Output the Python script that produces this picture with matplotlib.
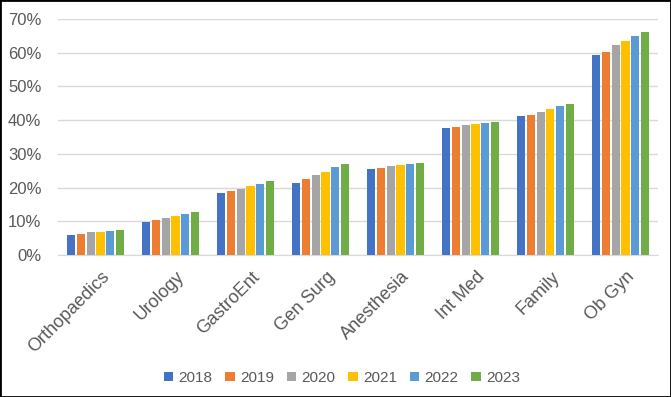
import numpy as np
import matplotlib as mpl
mpl.use('Agg')
import matplotlib.pyplot as plt
from matplotlib.transforms import ScaledTranslation
from matplotlib.ticker import PercentFormatter
from matplotlib.patches import Rectangle

plt.rcParams['font.family'] = ['Liberation Sans', 'DejaVu Sans']

categories = ['Orthopaedics', 'Urology', 'GastroEnt', 'Gen Surg',
              'Anesthesia', 'Int Med', 'Family', 'Ob Gyn']
years = ['2018', '2019', '2020', '2021', '2022', '2023']

# share per specialty, one list per year
v2018 = [0.060, 0.098, 0.184, 0.214, 0.256, 0.377, 0.413, 0.592]
v2019 = [0.063, 0.103, 0.191, 0.224, 0.259, 0.380, 0.416, 0.603]
v2020 = [0.067, 0.110, 0.197, 0.236, 0.264, 0.385, 0.425, 0.623]
v2021 = [0.068, 0.116, 0.205, 0.247, 0.267, 0.390, 0.434, 0.635]
v2022 = [0.072, 0.123, 0.212, 0.260, 0.270, 0.392, 0.441, 0.649]
v2023 = [0.075, 0.128, 0.220, 0.270, 0.273, 0.395, 0.447, 0.661]
series = [v2018, v2019, v2020, v2021, v2022, v2023]

colors = ['#4472C4', '#ED7D31', '#A5A5A5', '#FFC000', '#5B9BD5', '#70AD47']
txt = '#595959'

fig = plt.figure(figsize=(6.71, 3.97), dpi=100)
ax = fig.add_axes([58/671, 1-255/397, 600/671, 236/397])

x = np.arange(len(categories))
step = 0.133
for i, (vals, c, yr) in enumerate(zip(series, colors, years)):
    ax.bar(x + (i-2.5)*step, vals, width=0.107, color=c, label=yr, zorder=3)

ax.set_xlim(-0.5, len(categories)-0.5)
ax.set_ylim(0, 0.7)
ax.set_yticks(np.arange(0, 0.71, 0.1))
ax.yaxis.set_major_formatter(PercentFormatter(1.0, decimals=0))
ax.grid(axis='y', color='#D9D9D9', linewidth=1, zorder=0)
for s in ['top', 'right', 'left']:
    ax.spines[s].set_visible(False)
ax.spines['bottom'].set_color('#D9D9D9')
ax.tick_params(axis='both', length=0, colors=txt)
ax.tick_params(axis='y', pad=12, labelsize=12)

ax.set_xticks(x)
ax.set_xticklabels(categories, rotation=45, ha='right', rotation_mode='anchor',
                   fontsize=13)
off = ScaledTranslation(4/72, -6/72, fig.dpi_scale_trans)
for lab in ax.get_xticklabels():
    lab.set_transform(lab.get_transform() + off)

fig.legend(loc='center', bbox_to_anchor=(342/671, 1-378/397), ncol=6,
           frameon=False, fontsize=11, handlelength=0.6, handleheight=0.6,
           handletextpad=0.35, columnspacing=0.85, labelcolor=txt)

fig.patches.append(Rectangle((0, 0), 1, 1, transform=fig.transFigure,
                             fill=False, edgecolor='black', linewidth=2))

fig.savefig('out.png', dpi=100)
